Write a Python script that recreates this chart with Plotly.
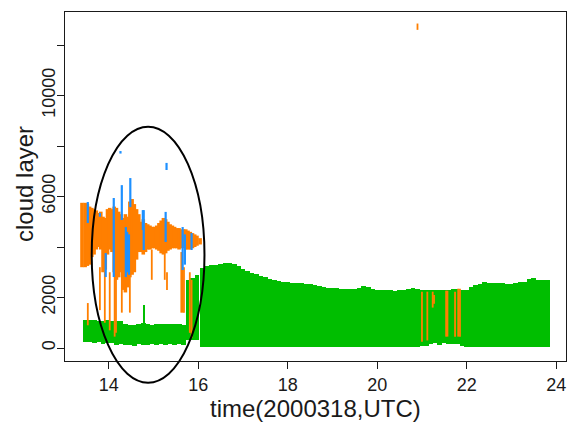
import plotly.graph_objects as go

# ---------------- data ----------------
# green: cloud layer (base, top) in metres, sampled in time (hours UTC)
green_time = [13.47, 13.57, 13.67, 13.77, 13.87, 13.97, 14.07, 14.17, 14.27, 14.37,
              14.47, 14.57, 14.67, 14.77, 14.87, 14.97, 15.07, 15.17, 15.27, 15.37,
              15.47, 15.57, 15.67, 15.77, 15.87, 15.97,
              16.1, 16.2, 16.3, 16.4, 16.5, 16.6, 16.7, 16.8, 16.9, 17.0,
              17.1, 17.2, 17.3, 17.4, 17.5, 17.6, 17.7, 17.8, 17.9, 18.0,
              18.1, 18.2, 18.3, 18.4, 18.5, 18.6, 18.7, 18.8, 18.9, 19.0,
              19.1, 19.2, 19.3, 19.4, 19.5, 19.6, 19.7, 19.8, 19.9, 20.0,
              20.1, 20.2, 20.3, 20.4, 20.5, 20.6, 20.7, 20.8, 20.9, 21.0,
              21.1, 21.2, 21.3, 21.4, 21.5, 21.6, 21.7, 21.8, 21.9, 22.0,
              22.1, 22.2, 22.3, 22.4, 22.5, 22.6, 22.7, 22.8, 22.9, 23.0,
              23.1, 23.2, 23.3, 23.4, 23.5, 23.6, 23.7, 23.8]
green_top = [1100, 1120, 1100, 1080, 1060, 1100, 1080, 1050, 1070, 950,
             920, 930, 950, 1000, 950, 930, 940, 960, 950, 940,
             960, 950, 920, 2700, 2780, 2880,
             3170, 3230, 3280, 3300, 3330, 3350, 3370, 3330, 3250, 3120,
             3050, 2980, 2920, 2860, 2800, 2740, 2680, 2640, 2620, 2600,
             2580, 2570, 2560, 2540, 2530, 2500, 2450, 2400, 2380, 2370,
             2360, 2350, 2350, 2340, 2350, 2380, 2450, 2420, 2330, 2310,
             2300, 2290, 2280, 2260, 2280, 2300, 2330, 2380, 2350, 2300,
             2290, 2280, 2290, 2300, 2280, 2300, 2320, 2330, 2300, 2310,
             2400, 2500, 2550, 2620, 2580, 2560, 2570, 2560, 2540, 2550,
             2570, 2600, 2620, 2750, 2780, 2700, 2690, 2690]
green_base = [250, 250, 200, 230, 150, 200, 180, 120, 150, 100,
              130, 90, 150, 100, 120, 150, 120, 140, 130, 150,
              120, 140, 130, 320, 320, 300,
              30, 30, 30, 30, 30, 30, 30, 30, 30, 30,
              30, 30, 30, 30, 30, 30, 30, 30, 30, 30,
              30, 30, 30, 30, 30, 30, 30, 30, 30, 30,
              30, 30, 30, 30, 30, 30, 30, 30, 30, 30,
              30, 30, 30, 30, 30, 30, 30, 30, 30, 60,
              80, 150, 200, 120, 180, 150, 140, 150, 60, 30,
              30, 30, 30, 30, 30, 30, 30, 30, 30, 30,
              30, 30, 30, 30, 30, 30, 30, 30]
green_spike_time = [14.8]
green_spike_base = [900]
green_spike_top = [1700]

# orange: dense band of cloud layer between 13.4 and 16.1 h
orange_band_time = [13.40, 13.47, 13.52, 13.57, 13.62, 13.67, 13.72, 13.77, 13.82, 13.87,
                    13.92, 13.97, 14.02, 14.07, 14.12, 14.17, 14.22, 14.27, 14.32, 14.37,
                    14.42, 14.47, 14.52, 14.57, 14.62, 14.67, 14.72, 14.77, 14.82, 14.87,
                    14.92, 14.97, 15.02, 15.07, 15.12, 15.17, 15.22, 15.27, 15.32, 15.37,
                    15.42, 15.47, 15.52, 15.57, 15.62, 15.67, 15.72, 15.77, 15.82, 15.87,
                    15.92, 15.97, 16.04]
orange_band_low = [3200, 3200, 3250, 3300, 3600, 3700, 3900, 4000, 3900, 3000,
                   3100, 3700, 3900, 3800, 3000, 2700, 2800, 3000, 2300, 2200,
                   2400, 2800, 2900, 3000, 3500, 3800, 3800, 3700, 3800, 3900,
                   3900, 3950, 3950, 3900, 3850, 3750, 3700, 3750, 3850, 3900,
                   3950, 3950, 3950, 3900, 3950, 3950, 3900, 3900, 3900, 3950,
                   4000, 4050, 4100]
orange_band_high = [5750, 5750, 5700, 5600, 5550, 5500, 5450, 5350, 5400, 5200,
                    5150, 5500, 5550, 5500, 5600, 5550, 5400, 5300, 5150, 5300,
                    5200, 5800, 5900, 5700, 5500, 5300, 5000, 5100, 4950, 4900,
                    4850, 4800, 4800, 4850, 4950, 5050, 5150, 5100, 5000, 4900,
                    4850, 4800, 4750, 4750, 4700, 4700, 4700, 4650, 4600, 4550,
                    4500, 4450, 4350]

# orange: isolated thin cloud-layer segments
orange_line_time = [13.53, 13.80, 13.91, 14.02, 14.13, 14.16, 14.29, 14.47, 14.96,
                    15.25, 15.30, 15.62, 15.65, 15.68, 15.81, 15.85, 20.90,
                    21.00, 21.12, 21.24, 21.27, 21.54, 21.57, 21.74, 21.81, 21.85]
orange_line_low = [900, 1500, 1000, 700, 450, 600, 1400, 1400, 2700,
                   2700, 2300, 1400, 1400, 1400, 600, 400, 12600,
                   250, 300, 1600, 1750, 450, 450, 450, 450, 450]
orange_line_high = [1780, 3200, 3100, 3000, 3000, 2800, 3200, 2900, 3900,
                    3900, 3000, 3800, 3200, 3200, 3000, 2700, 12850,
                    2230, 2230, 2230, 2100, 2270, 2270, 2230, 2350, 2350]

# blue: cloud-layer segments
blue_time = [13.53, 13.80, 13.93, 14.11, 14.26, 14.29, 14.38, 14.41, 14.45, 14.48,
             14.76, 14.78, 15.27, 15.29, 15.65, 15.70, 15.85]
blue_low = [4950, 5200, 2810, 2810, 7700, 5070, 2810, 3000, 2900, 5580,
            4670, 3880, 4200, 7050, 3090, 3300, 3880]
blue_high = [5780, 5350, 3760, 5940, 7800, 6450, 4790, 4600, 4500, 6730,
             5460, 5460, 5390, 7330, 4790, 4500, 4550]

x_ticks = [14, 16, 18, 20, 22, 24]
y_ticks = [0, 2000, 4000, 6000, 8000, 10000, 12000]
y_tick_text = ["0", "2000", "", "6000", "", "10000", ""]

# ---------------- figure ----------------
GREEN = "#00BE00"
ORANGE = "#FF7F00"
BLUE = "#1E90FF"


def seg(lo, hi):
    return [h - l for l, h in zip(lo, hi)]


def vsegments(t, lo, hi):
    xs, ys = [], []
    for ti, l, h in zip(t, lo, hi):
        xs += [ti, ti, None]
        ys += [l, h, None]
    return xs, ys


fig = go.Figure()
fig.add_trace(go.Bar(x=green_time, base=green_base, y=seg(green_base, green_top),
                     width=0.11, marker=dict(color=GREEN, line=dict(width=0))))
fig.add_trace(go.Bar(x=green_spike_time, base=green_spike_base,
                     y=seg(green_spike_base, green_spike_top),
                     width=0.03, marker=dict(color=GREEN, line=dict(width=0))))
# orange band: thick overlapping vertical strokes (one per sample)
bandx, bandy = vsegments(orange_band_time, orange_band_low, orange_band_high)
fig.add_trace(go.Scatter(x=bandx, y=bandy, mode="lines",
                         line=dict(color=ORANGE, width=3.6),
                         connectgaps=False, hoverinfo="skip"))
ox, oy = vsegments(orange_line_time, orange_line_low, orange_line_high)
fig.add_trace(go.Scatter(x=ox, y=oy, mode="lines", line=dict(color=ORANGE, width=1.8),
                         connectgaps=False, hoverinfo="skip"))
bx, by = vsegments(blue_time, blue_low, blue_high)
fig.add_trace(go.Scatter(x=bx, y=by, mode="lines", line=dict(color=BLUE, width=2.2),
                         connectgaps=False, hoverinfo="skip"))

FONT = "Liberation Sans, Arial, sans-serif"
INK = "#1a1a1a"
axis_common = dict(showgrid=False, zeroline=False, showline=True, mirror=True,
                   linecolor=INK, linewidth=1.3, ticks="outside", ticklen=7,
                   tickcolor=INK, tickwidth=1,
                   tickfont=dict(family=FONT, size=18, color=INK))

fig.update_layout(
    width=568, height=423,
    margin=dict(l=65, r=2, t=12, b=62),
    paper_bgcolor="white", plot_bgcolor="white",
    barmode="overlay", bargap=0, showlegend=False,
    xaxis=dict(range=[13.02, 24.22], tickvals=x_ticks, **axis_common),
    yaxis=dict(range=[-515, 13307], tickvals=y_ticks, ticktext=y_tick_text,
               tickangle=-90, ticklabelstandoff=-5, **axis_common),
    annotations=[
        dict(text="time(2000318,UTC)", xref="paper", yref="paper", x=0.5, y=-0.136,
             xanchor="center", yanchor="middle", showarrow=False,
             font=dict(family=FONT, size=24, color=INK)),
        dict(text="cloud layer", xref="paper", yref="paper", x=-0.082, y=0.507,
             xanchor="center", yanchor="middle", textangle=-90, showarrow=False,
             font=dict(family=FONT, size=24, color=INK)),
    ],
    shapes=[dict(type="circle", xref="paper", yref="paper",
                 x0=0.0533, x1=0.2784, y0=-0.0622, y1=0.6714,
                 line=dict(color="black", width=2))],
)

fig.write_html("out.html")
